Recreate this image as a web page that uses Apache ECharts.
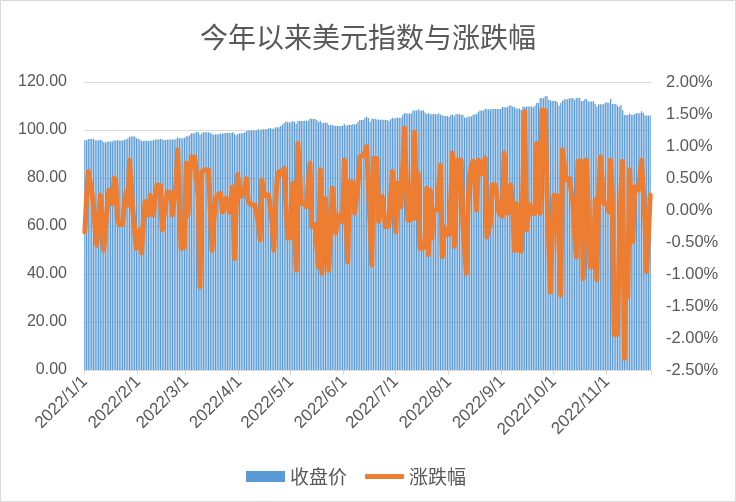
<!DOCTYPE html>
<html>
<head>
<meta charset="utf-8">
<script src="https://cdn.jsdelivr.net/npm/echarts@6/dist/echarts.min.js"></script>
<style>
html,body{margin:0;padding:0;background:#fff;}
#chart{width:736px;height:502px;}
</style>
</head>
<body>
<div id="chart"></div>
<script>
// Chart texts
var titleText = '今年以来美元指数与涨跌幅';
var seriesNames = ['收盘价', '涨跌幅'];
var startDate = [2022, 1, 1];

// 收盘价 (daily, calendar days from 2022/1/1)
var closes = [
95.7,95.7,96.2,96.3,96.2,96.3,95.7,
95.7,95.7,95.9,95.6,94.9,94.8,95.2,
95.2,95.2,95.2,95.7,95.5,95.8,95.6,
95.6,95.6,95.9,96.0,96.5,97.2,97.3,
97.3,97.3,96.5,96.4,96.0,95.4,95.5,
95.5,95.5,95.4,95.6,95.5,95.8,96.0,
96.0,96.0,96.3,96.0,95.8,95.8,96.0,
96.0,96.0,96.0,96.0,96.2,97.0,96.6,
96.6,96.6,96.7,97.4,97.4,97.8,98.6,
98.6,98.6,99.3,99.1,98.0,98.5,99.1,
99.1,99.1,99.0,98.8,98.4,97.9,98.2,
98.2,98.2,98.5,98.5,98.6,98.8,98.8,
98.8,98.8,99.1,98.4,97.8,98.3,98.6,
98.6,98.6,99.0,99.5,99.8,99.8,99.8,
99.8,99.8,99.9,100.3,99.8,100.3,100.3,
100.3,100.3,100.7,100.9,100.4,100.6,101.1,
101.1,101.1,101.7,102.3,102.9,103.6,103.2,
103.2,103.2,103.7,103.4,102.6,103.7,103.7,
103.7,103.7,103.9,103.9,103.9,104.8,104.6,
104.6,104.6,104.2,103.4,103.9,102.9,103.0,
103.0,103.0,102.1,102.0,102.1,101.8,101.7,
101.7,101.7,101.7,101.8,102.5,101.8,102.1,
102.1,102.1,102.4,102.3,102.5,103.3,104.2,
104.2,104.2,105.1,105.5,105.0,103.4,104.7,
104.7,104.7,104.4,104.4,104.2,104.4,104.2,
104.2,104.2,103.9,104.5,105.1,104.7,105.1,
105.1,105.1,105.1,106.4,107.0,107.0,106.9,
106.9,106.9,108.1,108.1,108.0,108.6,108.1,
108.1,108.1,107.3,106.7,107.1,106.6,106.7,
106.7,106.7,106.5,107.0,106.4,106.0,105.8,
105.8,105.8,105.4,106.2,106.5,105.7,106.6,
106.6,106.6,106.4,106.4,105.2,105.1,105.6,
105.6,105.6,106.5,106.5,106.7,107.6,108.1,
108.1,108.1,108.9,108.6,108.6,108.5,108.8,
108.8,108.8,108.8,108.8,108.7,109.7,109.5,
109.5,109.5,110.2,110.2,109.7,109.6,109.0,
109.0,109.0,108.3,109.8,109.6,109.7,109.8,
109.8,109.8,109.5,110.2,111.3,111.2,113.2,
113.2,113.2,114.1,114.2,112.6,112.3,112.1,
112.1,112.1,111.6,110.2,111.2,112.2,112.8,
112.8,112.8,113.2,113.2,113.3,112.5,113.3,
113.3,113.3,112.0,112.1,112.9,112.8,111.9,
111.9,111.9,112.0,110.9,109.7,110.6,110.7,
110.7,110.7,111.5,111.5,111.4,112.9,110.8,
110.8,110.8,110.2,109.6,110.4,108.2,106.3,
106.3,106.3,106.9,106.4,106.3,106.7,107.0,
107.0,107.0,107.8,107.2,106.1,106.0,106.0,
106.0
];

// 涨跌幅 (%)
var changes = [
-0.34,0.20,0.60,0.58,0.30,0.08,-0.30,-0.55,-0.55,0.23,
-0.20,-0.63,-0.63,0.05,0.31,0.28,0.10,0.50,0.45,-0.16,
-0.23,-0.23,-0.22,0.10,0.28,0.08,0.78,0.76,-0.03,0.00,
-0.60,-0.58,-0.31,-0.67,-0.20,0.13,0.13,-0.08,0.23,0.22,
-0.08,0.20,0.39,0.39,0.38,-0.31,-0.28,0.10,0.28,0.28,
0.27,-0.08,-0.08,0.40,0.94,0.92,-0.60,-0.60,-0.58,0.73,
-0.08,0.50,0.83,0.83,0.82,0.80,0.20,-1.20,0.60,0.62,
0.63,0.63,0.62,0.00,-0.63,-0.20,0.15,0.23,0.26,0.26,
-0.03,0.10,0.18,0.10,-0.03,-0.02,0.36,-0.76,0.00,0.55,
0.30,0.21,0.21,0.35,0.49,0.13,0.10,0.08,0.08,0.08,
0.08,-0.20,-0.47,0.47,0.30,0.23,0.23,0.23,0.22,-0.20,
-0.63,0.10,0.52,0.60,0.55,0.55,0.65,0.64,-0.44,-0.44,
-0.43,0.42,0.42,-0.94,1.04,1.02,0.10,0.10,0.10,0.05,
0.40,0.73,-0.26,-0.24,-0.23,-0.23,-0.89,0.63,-0.99,-0.99,
0.18,0.18,-0.94,-0.30,0.34,0.33,-0.36,-0.20,-0.08,-0.08,
-0.18,0.78,-0.20,-0.81,0.44,0.44,0.43,-0.05,-0.04,0.40,
0.83,0.84,0.86,0.90,0.99,0.98,-0.20,-0.86,0.81,0.81,
0.80,-0.18,0.00,0.21,0.20,-0.26,-0.26,-0.25,0.20,0.60,
0.10,-0.34,0.42,0.42,0.05,0.05,1.28,1.27,-0.16,-0.16,
-0.15,0.50,1.22,-0.13,0.57,-0.60,-0.60,-0.59,-0.49,0.34,
-0.70,0.31,-0.44,0.00,0.00,0.00,0.40,0.70,-0.73,-0.26,
-0.39,-0.39,-0.38,0.20,0.89,-0.57,0.10,0.78,0.78,0.77,
-0.21,-0.60,-0.99,0.10,0.55,0.70,0.76,0.76,0.00,0.78,
0.78,0.57,0.57,0.81,-0.42,-0.30,-0.21,0.39,0.39,0.39,
0.38,-0.05,-0.08,-0.10,0.89,0.40,-0.05,0.13,0.39,0.00,
-0.63,0.10,-0.63,-0.64,-0.64,-0.65,1.54,-0.31,-0.10,0.08,
-0.05,-0.05,-0.05,1.04,0.50,-0.05,1.56,1.56,1.55,0.23,
-0.50,-1.28,-0.40,0.23,0.23,0.22,-0.60,-1.33,0.94,0.92,
0.47,0.48,0.49,0.30,0.13,-0.34,-0.73,0.76,0.76,0.76,
-1.07,-0.10,0.78,0.00,-0.89,-0.89,-0.88,0.16,-1.09,0.20,
0.83,0.50,0.10,0.10,0.10,-0.03,0.78,0.20,-1.95,-1.95,
-1.94,-0.55,0.30,0.76,-2.32,-0.55,-1.36,0.63,0.60,-0.49,
0.36,0.33,0.31,0.50,0.78,0.78,-0.20,-0.96,-0.40,0.23
];

// Axis ranges / ticks
var leftAxis = {min: 0, max: 120, interval: 20};
var rightAxis = {min: -2.5, max: 2.0, interval: 0.5};

// Category labels: calendar dates
var dates = [];
(function(){
  var t0 = Date.UTC(startDate[0], startDate[1]-1, startDate[2]);
  for (var i = 0; i < closes.length; i++) {
    var d = new Date(t0 + i*86400000);
    dates.push(d.getUTCFullYear() + '/' + (d.getUTCMonth()+1) + '/' + d.getUTCDate());
  }
})();

function isMonthStart(idx, val){ return String(val).split('/')[2] === '1'; }

var numFont = 'Liberation Sans, Arial, sans-serif';
var cjkFont = '"Noto Sans CJK SC", sans-serif';
var txt = '#595959';
var gridC = '#D9D9D9';
var legendText = {fontFamily: cjkFont, fontSize: 19, color: txt};

var chart = echarts.init(document.getElementById('chart'), null, {renderer: 'canvas'});
chart.setOption({
  animation: false,
  backgroundColor: '#fff',
  title: {
    text: titleText, left: 'center', top: 23, padding: 0,
    textStyle: {fontFamily: cjkFont, fontSize: 28, fontWeight: 'normal', color: txt}
  },
  legend: [{
    data: [{name: seriesNames[0], icon: 'rect'}],
    left: 246, top: 467, padding: 0,
    itemWidth: 39, itemHeight: 11,
    textStyle: legendText
  }, {
    data: [{name: seriesNames[1], icon: 'roundRect'}],
    left: 365, top: 467, padding: 0,
    itemWidth: 39, itemHeight: 5,
    textStyle: legendText
  }],
  grid: {left: 84, right: 85, top: 82, bottom: 132, containLabel: false},
  xAxis: {
    type: 'category', data: dates, boundaryGap: true,
    axisLine: {lineStyle: {color: gridC, width: 1}},
    axisTick: {show: true, interval: isMonthStart, length: 5, lineStyle: {color: gridC}},
    axisLabel: {interval: isMonthStart, rotate: 45, margin: 9, color: txt,
      fontFamily: numFont, fontSize: 17},
    splitLine: {show: false}
  },
  yAxis: [{
    type: 'value', min: leftAxis.min, max: leftAxis.max, interval: leftAxis.interval,
    axisLine: {show: false}, axisTick: {show: false},
    axisLabel: {margin: 17, color: txt, fontFamily: numFont, fontSize: 16,
      formatter: function(v){ return v.toFixed(2); }},
    splitLine: {lineStyle: {color: gridC, width: 1}}
  }, {
    type: 'value', min: rightAxis.min, max: rightAxis.max, interval: rightAxis.interval,
    axisLine: {show: false}, axisTick: {show: false},
    axisLabel: {margin: 15, color: txt, fontFamily: numFont, fontSize: 16.5,
      formatter: function(v){ return v.toFixed(2) + '%'; }},
    splitLine: {show: false}
  }],
  series: [{
    name: seriesNames[0], type: 'bar', data: closes, yAxisIndex: 0,
    barCategoryGap: '30%',
    itemStyle: {color: '#5B9BD5'}
  }, {
    name: seriesNames[1], type: 'line', data: changes, yAxisIndex: 1,
    symbol: 'none', showSymbol: false,
    lineStyle: {color: '#ED7D31', width: 5, cap: 'round', join: 'round'},
    itemStyle: {color: '#ED7D31'}
  }],
  graphic: [{
    type: 'rect', shape: {x: 0.5, y: 0.5, width: 735, height: 501},
    style: {fill: 'none', stroke: '#D9D9D9', lineWidth: 1}, silent: true
  }]
});
</script>
</body>
</html>
